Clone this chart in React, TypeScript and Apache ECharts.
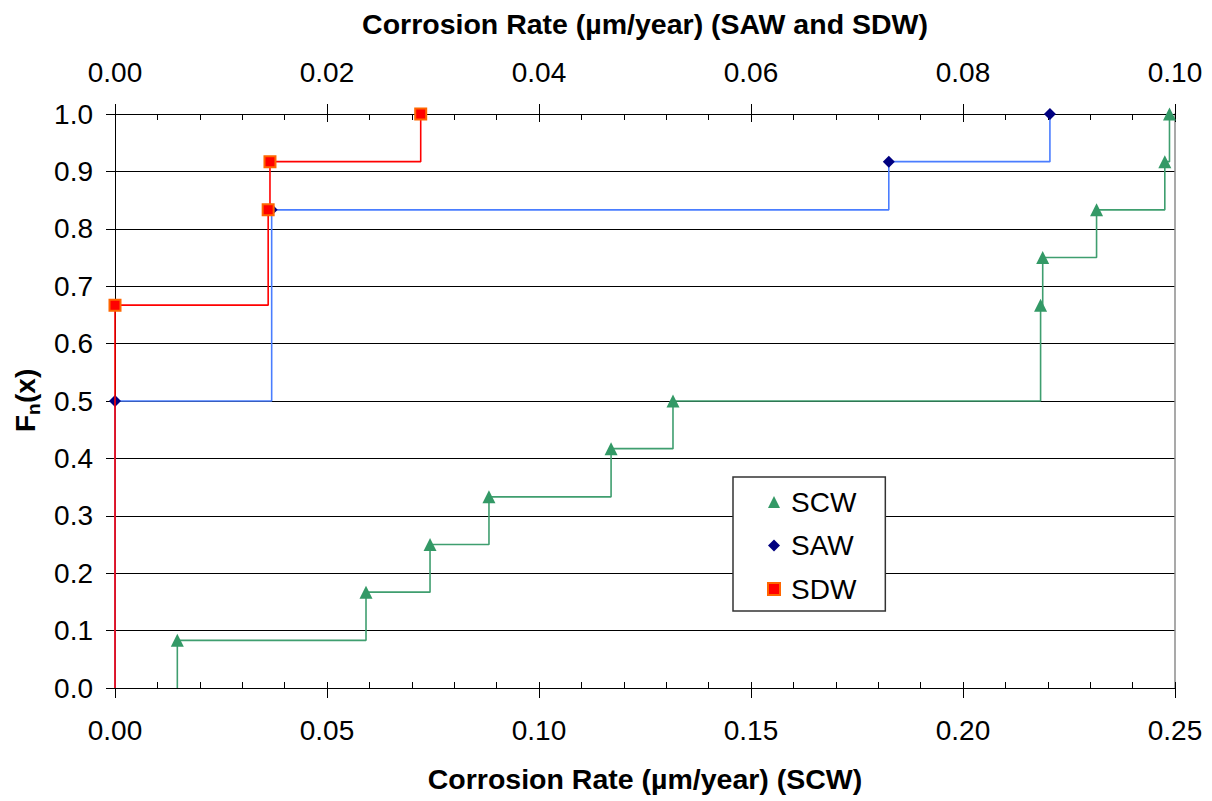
import React, { useEffect, useRef } from "react";
import * as echarts from "echarts";

// ---- data ----
const scwX = [0.0147, 0.0147, 0.0592, 0.0743, 0.0882, 0.1170, 0.1316, 0.2183, 0.2188, 0.2315, 0.2476, 0.2487];
const scwY = [0, 0.083, 0.167, 0.25, 0.333, 0.417, 0.5, 0.667, 0.75, 0.833, 0.917, 1.0];
const sawX = [0, 0, 0.01478, 0.0730, 0.0882];
const sawY = [0, 0.5, 0.833, 0.917, 1.0];
const sdwX = [0, 0, 0.01445, 0.01462, 0.02884];
const sdwY = [0, 0.667, 0.833, 0.917, 1.0];
const seriesNames = ["SCW", "SAW", "SDW"];
const bottomTitle = "Corrosion Rate (µm/year) (SCW)";
const topTitle = "Corrosion Rate (µm/year) (SAW and SDW)";

const FONT = "'Liberation Sans', Arial, sans-serif";

function toData(xs: number[], ys: number[]) {
  return xs.map((x, i) =>
    i === 0 ? { value: [x, ys[i]], symbol: "none" } : { value: [x, ys[i]] }
  );
}

export default function App() {
  const ref = useRef<HTMLDivElement>(null);
  useEffect(() => {
    if (!ref.current) return;
    const chart = echarts.init(ref.current, null, { renderer: "svg" });
    const labelStyle = { fontSize: 28, color: "#000", fontFamily: FONT };
    const nameStyle = { fontSize: 28.5, fontWeight: "bold" as const, color: "#000", fontFamily: FONT };
    chart.setOption({
      animation: false,
      backgroundColor: "#fff",
      grid: { left: 115, right: 37, top: 114, bottom: 113, containLabel: false },
      xAxis: [
        {
          type: "value", position: "bottom", min: 0, max: 0.25, interval: 0.05,
          axisLine: { onZero: false, lineStyle: { color: "#000", width: 1 } },
          axisTick: { show: true, length: 10, lineStyle: { color: "#000" } },
          axisLabel: { ...labelStyle, margin: 28, formatter: (v: number) => v.toFixed(2) },
          splitLine: { show: false },
          name: bottomTitle, nameLocation: "middle", nameGap: 76, nameTextStyle: nameStyle,
        },
        {
          type: "value", position: "top", min: 0, max: 0.1, interval: 0.02,
          axisLine: { onZero: false, lineStyle: { color: "#000", width: 1 } },
          axisTick: { show: true, length: 10, lineStyle: { color: "#000" } },
          axisLabel: { ...labelStyle, margin: 28, formatter: (v: number) => v.toFixed(2) },
          splitLine: { show: false },
          name: topTitle, nameLocation: "middle", nameGap: 76, nameTextStyle: nameStyle,
        },
        {
          type: "value", position: "bottom", min: 0, max: 0.25, interval: 0.05,
          axisLine: { show: false, onZero: false },
          axisTick: { show: true, inside: true, length: 6, lineStyle: { color: "#000" } },
          minorTick: { show: true, splitNumber: 5, length: 6, lineStyle: { color: "#000" } },
          axisLabel: { show: false },
          splitLine: { show: false },
        },
        {
          type: "value", position: "top", min: 0, max: 0.1, interval: 0.02,
          axisLine: { show: false, onZero: false },
          axisTick: { show: true, inside: true, length: 8, lineStyle: { color: "#000" } },
          minorTick: { show: true, splitNumber: 5, length: 6, lineStyle: { color: "#000" } },
          axisLabel: { show: false },
          splitLine: { show: false },
        },
      ],
      yAxis: [
        {
          type: "value", position: "left", min: 0, max: 1, interval: 0.1,
          axisLine: { show: true, onZero: false, lineStyle: { color: "#000", width: 1 } },
          axisTick: { show: true, length: 9, lineStyle: { color: "#000" } },
          axisLabel: { ...labelStyle, margin: 22, formatter: (v: number) => v.toFixed(1) },
          splitLine: { show: true, lineStyle: { color: "#000", width: 1 } },
        },
        {
          type: "value", position: "right", min: 0, max: 1, interval: 0.1,
          axisLine: { show: true, onZero: false, lineStyle: { color: "#8c8c8c", width: 1.5 } },
          axisTick: { show: false },
          axisLabel: { show: false },
          splitLine: { show: false },
        },
      ],
      legend: {
        orient: "vertical",
        left: 733,
        top: 477,
        padding: [10, 29, 7, 34],
        itemGap: 13.5,
        itemWidth: 12,
        itemHeight: 12,
        backgroundColor: "#fff",
        borderColor: "#333",
        borderWidth: 1.5,
        borderRadius: 0,
        textStyle: { fontSize: 28, color: "#000", fontFamily: FONT, lineHeight: 30, padding: [0, 0, 0, 6] },
        data: [
          { name: seriesNames[0], icon: "triangle", itemStyle: { color: "#339966", borderWidth: 0 } },
          { name: seriesNames[1], icon: "diamond", itemStyle: { color: "#000080", borderWidth: 0 } },
          { name: seriesNames[2], icon: "rect", itemStyle: { color: "#ff0000", borderColor: "#ff6600", borderWidth: 2 } },
        ],
      },
      series: [
        {
          name: seriesNames[0], type: "line", xAxisIndex: 0, yAxisIndex: 0, step: "end",
          data: toData(scwX, scwY), symbol: "triangle", symbolSize: 13,
          lineStyle: { color: "#3f9e6f", width: 1.6 },
          itemStyle: { color: "#339966" },
          z: 3,
        },
        {
          name: seriesNames[1], type: "line", xAxisIndex: 1, yAxisIndex: 0, step: "end",
          data: toData(sawX, sawY), symbol: "diamond", symbolSize: 12,
          lineStyle: { color: "#4a7dff", width: 1.6 },
          itemStyle: { color: "#000080" },
          z: 4,
        },
        {
          name: seriesNames[2], type: "line", xAxisIndex: 1, yAxisIndex: 0, step: "end",
          data: toData(sdwX, sdwY), symbol: "rect", symbolSize: 11,
          lineStyle: { color: "#ff0000", width: 1.6 },
          itemStyle: { color: "#ff0000", borderColor: "#ff6600", borderWidth: 2 },
          z: 5,
        },
      ],
      graphic: [
        {
          type: "group", x: 25, y: 400, rotation: Math.PI / 2,
          children: [
            { type: "text", x: -32, y: 0, style: { text: "F", fontSize: 28, fontWeight: "bold", fontFamily: FONT, fill: "#000", textAlign: "left", textVerticalAlign: "middle" } },
            { type: "text", x: -15, y: 8, style: { text: "n", fontSize: 19, fontWeight: "bold", fontFamily: FONT, fill: "#000", textAlign: "left", textVerticalAlign: "middle" } },
            { type: "text", x: -3, y: 0, style: { text: "(x)", fontSize: 28, fontWeight: "bold", fontFamily: FONT, fill: "#000", textAlign: "left", textVerticalAlign: "middle" } },
          ],
        },
      ],
    });
    return () => chart.dispose();
  }, []);
  return <div ref={ref} style={{ position: "fixed", left: 0, top: 0, width: 1212, height: 801 }} />;
}
